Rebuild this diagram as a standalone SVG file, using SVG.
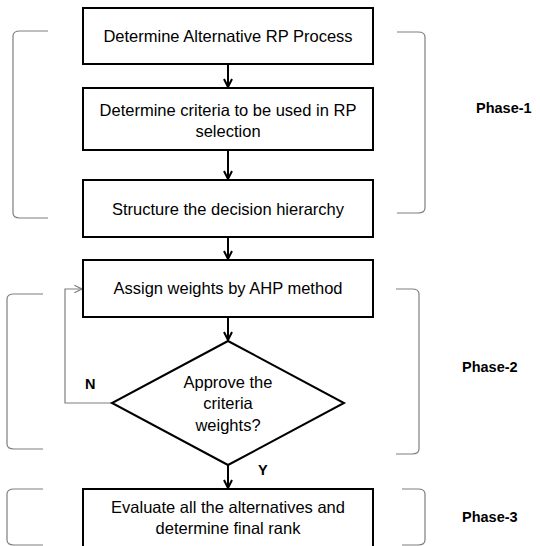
<svg xmlns="http://www.w3.org/2000/svg" width="540" height="546" viewBox="0 0 540 546">
<defs>
<style>
.box{fill:#fff;stroke:#000;stroke-width:2}
.t{font-family:"Liberation Sans",Arial,sans-serif;font-size:16.5px;fill:#000;text-anchor:middle}
.b{font-family:"Liberation Sans",Arial,sans-serif;font-size:14.5px;font-weight:bold;fill:#000}
.br{fill:none;stroke:#7f7f7f;stroke-width:1.2}
.c{fill:none;stroke:#000;stroke-width:2}
</style>
<marker id="ah" viewBox="0 0 10 10" refX="9" refY="5" markerWidth="5" markerHeight="5" orient="auto" markerUnits="strokeWidth">
<polyline points="1,1 9,5 1,9" fill="none" stroke="#000" stroke-width="2"/>
</marker>
<marker id="ahg" viewBox="0 0 10 10" refX="9" refY="5" markerWidth="8" markerHeight="8" orient="auto" markerUnits="strokeWidth">
<polyline points="1,1 9,5 1,9" fill="none" stroke="#7f7f7f" stroke-width="1.2"/>
</marker>
</defs>
<rect width="540" height="546" fill="#fff"/>
<g id="brackets">
<path class="br" d="M48,31 L20,31 Q13,31 13,36 L13,213 Q13,218 20,218 L48,218"/>
<path class="br" d="M397,32 L418,32 Q425,32 425,37 L425,208 Q425,213 418,213 L397,213"/>
<path class="br" d="M43,294 L14,294 Q7,294 7,299 L7,444 Q7,449 14,449 L43,449"/>
<path class="br" d="M396,289 L412,289 Q419,289 419,294 L419,449 Q419,454 412,454 L396,454"/>
<path class="br" d="M43,489 L14,489 Q7,489 7,494 L7,540 Q7,545 14,545 L43,545"/>
<path class="br" d="M402,489 L418,489 Q425,489 425,494 L425,540 Q425,545 418,545 L402,545"/>
</g>
<g id="connectors">
<line class="c" x1="228" y1="64" x2="228" y2="87" marker-end="url(#ah)"/>
<line class="c" x1="228" y1="150" x2="228" y2="179" marker-end="url(#ah)"/>
<line class="c" x1="228" y1="237" x2="228" y2="259" marker-end="url(#ah)"/>
<line class="c" x1="228" y1="317" x2="228" y2="340" marker-end="url(#ah)"/>
<line class="c" x1="228" y1="465" x2="228" y2="488" marker-end="url(#ah)"/>
<polyline points="112,403 65,403 65,289 82,289" fill="none" stroke="#7f7f7f" stroke-width="1.2" marker-end="url(#ahg)"/>
<text class="b" x="85" y="389">N</text>
<text class="b" x="258" y="475">Y</text>
</g>
<g id="n1">
<rect class="box" x="83" y="8" width="290" height="56"/>
<text class="t" x="228" y="42">Determine Alternative RP Process</text>
</g>
<g id="n2">
<rect class="box" x="83" y="88" width="290" height="62"/>
<text class="t" x="228" y="116">Determine criteria to be used in RP</text>
<text class="t" x="228" y="137">selection</text>
</g>
<g id="n3">
<rect class="box" x="83" y="180" width="290" height="57"/>
<text class="t" x="228" y="215">Structure the decision hierarchy</text>
</g>
<g id="n4">
<rect class="box" x="83" y="260" width="290" height="57"/>
<text class="t" x="228" y="294">Assign weights by AHP method</text>
</g>
<g id="n5">
<polygon class="box" points="228,341 344,403 228,465 112,403"/>
<text class="t" x="228" y="388">Approve the</text>
<text class="t" x="228" y="409">criteria</text>
<text class="t" x="228" y="431">weights?</text>
</g>
<g id="n6">
<rect class="box" x="83" y="489" width="290" height="60"/>
<text class="t" x="228" y="513">Evaluate all the alternatives and</text>
<text class="t" x="228" y="534">determine final rank</text>
</g>
<g id="labels">
<text class="b" x="476" y="113">Phase-1</text>
<text class="b" x="462" y="372">Phase-2</text>
<text class="b" x="462" y="522">Phase-3</text>
</g>
</svg>
